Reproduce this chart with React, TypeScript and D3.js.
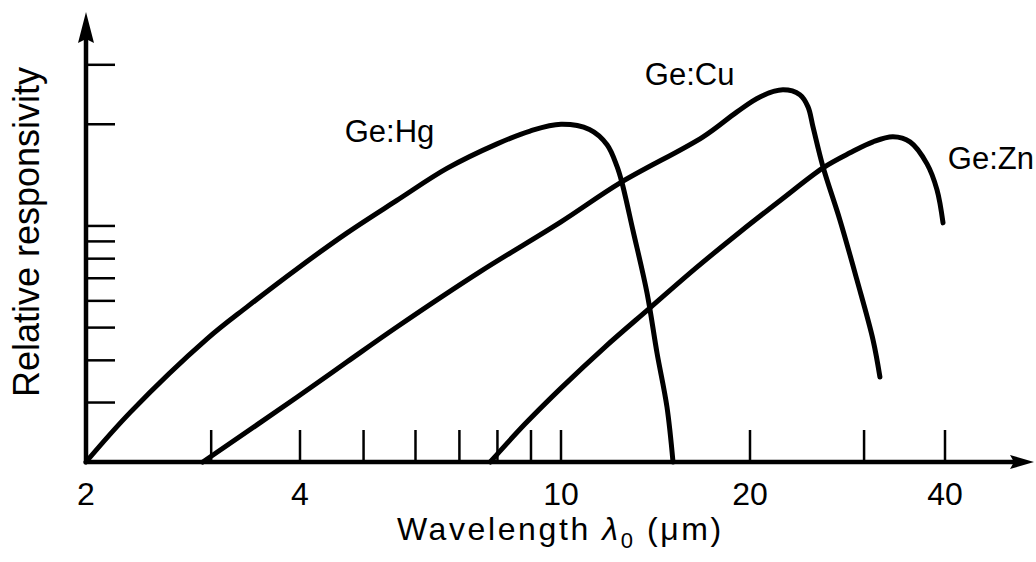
import React, { useEffect, useRef } from 'react';
import * as d3 from 'd3';

// values (wavelength in um, relative responsivity on a log axis)
const hgWavelength = [2, 2.31, 2.96, 3.37, 3.96, 4.72, 5.62, 6.7, 7.99, 8.97, 10, 11.1, 11.84, 12.28, 12.51, 13.02, 13.71, 14.22, 14.75, 15.08];
const hgResponse = [0.2, 0.281, 0.463, 0.576, 0.746, 0.954, 1.19, 1.48, 1.75, 1.91, 2.0, 1.93, 1.74, 1.5, 1.34, 0.97, 0.633, 0.421, 0.291, 0.2];

const cuWavelength = [2.92, 3.96, 4.72, 5.62, 7.52, 10, 12.42, 16.84, 19.07, 20.72, 22.48, 23.88, 24.58, 25.02, 25.93, 27.53, 29.25, 30.97, 31.74];
const cuResponse = [0.2, 0.311, 0.396, 0.502, 0.731, 1.028, 1.341, 1.836, 2.177, 2.41, 2.529, 2.445, 2.252, 1.965, 1.495, 1.042, 0.692, 0.46, 0.357];

const znWavelength = [7.8, 8.81, 10, 11.75, 13.86, 16.34, 19.28, 22.42, 25.93, 28.54, 30.97, 33.25, 35.32, 37.52, 38.88, 39.72];
const znResponse = [0.2, 0.259, 0.331, 0.438, 0.572, 0.746, 0.96, 1.202, 1.486, 1.646, 1.774, 1.836, 1.774, 1.527, 1.279, 1.021];

const seriesNames = ['Ge:Hg', 'Ge:Cu', 'Ge:Zn'];
const labelWavelength = [4.68, 13.6, 40.4];
const labelResponse = [1.77, 2.62, 1.47];

const xTickValues = [3, 4, 5, 6, 7, 8, 9, 10, 20, 30, 40];
const xTickLabels = [2, 4, 10, 20, 40];
const yTickValues = [0.3, 0.4, 0.5, 0.6, 0.7, 0.8, 0.9, 1, 2, 3];

const FONT = '"Liberation Sans", Arial, Helvetica, sans-serif';

export default function App() {
  const ref = useRef<SVGSVGElement>(null);

  useEffect(() => {
    const svg = d3.select(ref.current);
    svg.selectAll('*').remove();

    // hand drawn log axis: piecewise log scale through the labelled ticks
    const x = d3.scaleLog().domain([2, 4, 10, 20, 40]).range([86, 300, 561, 750, 945]);
    const y = d3.scaleLog().domain([0.2, 4.3]).range([462, 12]);

    const x0 = x(2), y0 = y(0.2);
    const xEnd = 1034, yTop = y(4.3);

    const g = svg.append('g');

    // y ticks (inside, pointing right)
    g.selectAll('.ytick').data(yTickValues).join('line')
      .attr('class', 'ytick')
      .attr('x1', x0).attr('x2', x0 + 29)
      .attr('y1', d => y(d)).attr('y2', d => y(d))
      .attr('stroke', '#000').attr('stroke-width', 2.5);

    // x ticks (pointing up)
    g.selectAll('.xtick').data(xTickValues).join('line')
      .attr('class', 'xtick')
      .attr('x1', d => x(d)).attr('x2', d => x(d))
      .attr('y1', y0).attr('y2', y0 - 32)
      .attr('stroke', '#000').attr('stroke-width', 2.5);

    // axes with arrows
    g.append('line').attr('x1', x0).attr('y1', y0 + 2).attr('x2', x0).attr('y2', yTop + 20)
      .attr('stroke', '#000').attr('stroke-width', 4.5);
    g.append('line').attr('x1', x0 - 2).attr('y1', y0).attr('x2', xEnd - 16).attr('y2', y0)
      .attr('stroke', '#000').attr('stroke-width', 4.5);
    g.append('path')
      .attr('d', `M${x0},${yTop} L${x0 + 8},${yTop + 31} L${x0},${yTop + 27} L${x0 - 8},${yTop + 31} Z`)
      .attr('fill', '#000');
    g.append('path')
      .attr('d', `M${xEnd},${y0} L${xEnd - 24},${y0 + 7} L${xEnd - 20},${y0} L${xEnd - 24},${y0 - 7} Z`)
      .attr('fill', '#000');

    // tick labels
    g.selectAll('.xlabel').data(xTickLabels).join('text')
      .attr('class', 'xlabel')
      .attr('x', d => x(d)).attr('y', 505)
      .attr('text-anchor', 'middle')
      .attr('font-family', FONT).attr('font-size', 32)
      .text(d => d);

    // axis titles
    const title = g.append('text')
      .attr('x', 397).attr('y', 540)
      .attr('font-family', FONT).attr('font-size', 32)
      .attr('letter-spacing', 2.6);
    title.append('tspan').text('Wavelength ');
    title.append('tspan').attr('font-style', 'italic').text('\u03bb');
    title.append('tspan').attr('font-size', 22).attr('dy', 8).text('0');
    title.append('tspan').attr('dy', -8).text(' (\u03bcm)');

    g.append('text')
      .attr('transform', `translate(39, 232) rotate(-90)`)
      .attr('text-anchor', 'middle')
      .attr('font-family', FONT).attr('font-size', 36)
      .text('Relative responsivity');

    // curves
    const line = d3.line<[number, number]>()
      .x(d => x(d[0]))
      .y(d => y(d[1]))
      .curve(d3.curveCatmullRom.alpha(0.5));

    const series = [
      d3.zip(hgWavelength, hgResponse),
      d3.zip(cuWavelength, cuResponse),
      d3.zip(znWavelength, znResponse),
    ] as [number, number][][];

    g.selectAll('.curve').data(series).join('path')
      .attr('class', 'curve')
      .attr('d', d => line(d))
      .attr('fill', 'none')
      .attr('stroke', '#000')
      .attr('stroke-width', 5)
      .attr('stroke-linecap', 'round')
      .attr('stroke-linejoin', 'round');

    g.selectAll('.serieslabel').data(seriesNames).join('text')
      .attr('class', 'serieslabel')
      .attr('x', (d, i) => x(labelWavelength[i]))
      .attr('y', (d, i) => y(labelResponse[i]))
      .attr('font-family', FONT).attr('font-size', 31)
      .text(d => d);
  }, []);

  return (
    <svg ref={ref} width={1036} height={562}
      style={{ position: 'absolute', left: 0, top: 0, background: '#fff' }} />
  );
}
